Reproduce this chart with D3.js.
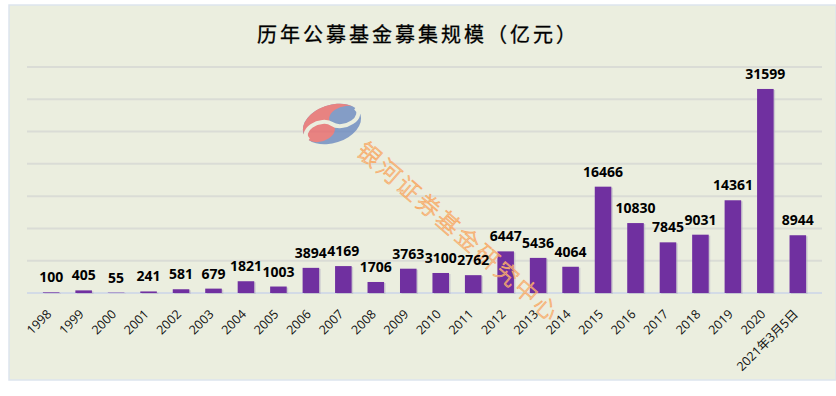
<!DOCTYPE html>
<html>
<head>
<meta charset="utf-8">
<script src="https://cdn.jsdelivr.net/npm/d3@7"></script>
<style>
  body { margin: 0; background: #fff; }
</style>
</head>
<body>
<script>
// categories and values (亿元)
const years = ['1998','1999','2000','2001','2002','2003','2004','2005','2006','2007','2008','2009',
  '2010','2011','2012','2013','2014','2015','2016','2017','2018','2019','2020','2021年3月5日']
const amounts = [100,405,55,241,581,679,1821,1003,3894,4169,1706,3763,
  3100,2762,6447,5436,4064,16466,10830,7845,9031,14361,31599,8944]
const gridTicks = [0,5000,10000,15000,20000,25000,30000,35000]

const m = { width: 836, height: 396 }
const plot = { left: 27, right: 822, top: 67, bottom: 293 }

const svg = d3.select('body').append('svg')
    .attr('width', m.width)
    .attr('height', m.height)

svg.append('rect')
    .attr('x', 9).attr('y', 5)
    .attr('width', m.width - 9).attr('height', 375)
    .attr('fill', '#ebeedf')
    .attr('stroke', '#dde5ee')
    .attr('stroke-width', 1.5)

svg.append('text')
    .attr('x', 418)
    .attr('y', 42)
    .attr('text-anchor', 'middle')
    .attr('font-family', '"Noto Sans CJK SC", serif')
    .attr('font-size', '20px')
    .attr('letter-spacing', '3px')
    .attr('fill', '#000')
    .attr('stroke', '#000')
    .attr('stroke-width', 0.3)
    .text('历年公募基金募集规模（亿元）')

const x = d3.scaleBand()
    .domain(years)
    .range([plot.left, plot.right])
    .padding(0.49)

const y = d3.scaleLinear()
    .domain([0, 35000])
    .range([plot.bottom, plot.top])

// gridlines
svg.append('g')
    .selectAll('line')
    .data(gridTicks)
    .enter()
    .append('line')
        .attr('x1', plot.left)
        .attr('x2', plot.right)
        .attr('y1', d => y(d))
        .attr('y2', d => y(d))
        .attr('stroke', d => d === 0 ? '#d3dbe6' : '#dadcd6')
        .attr('stroke-width', 2)

// watermark logo
const logo = svg.append('g')
    .attr('transform', 'translate(332,124) rotate(-18) scale(30,19)')
    .attr('opacity', 0.72)
logo.append('ellipse').attr('rx', 1).attr('ry', 1).attr('fill', '#5d7fbd')
logo.append('path')
    .attr('d', 'M-1,0 A1,1 0 0,1 1,0 A0.5,0.5 0 0,0 0,0 A0.5,0.5 0 0,1 -1,0 Z')
    .attr('transform', 'rotate(-25)')
    .attr('fill', '#e85a5e')
logo.append('path')
    .attr('d', 'M-1,0 A0.5,0.5 0 0,1 0,0 A0.5,0.5 0 0,0 1,0')
    .attr('transform', 'rotate(-25)')
    .attr('fill', 'none')
    .attr('stroke', '#ebeedf')
    .attr('stroke-width', 4)
    .attr('vector-effect', 'non-scaling-stroke')

// bars with light shadow
const bars = svg.append('g')
bars.selectAll('.shadow')
    .data(amounts)
    .enter()
    .append('rect')
        .attr('class', 'shadow')
        .attr('x', (d, i) => x(years[i]) + 1.5)
        .attr('y', d => y(d) + 1)
        .attr('width', x.bandwidth())
        .attr('height', d => plot.bottom - y(d))
        .attr('fill', '#b9b4c4')
        .attr('opacity', 0.6)
bars.selectAll('.bar')
    .data(amounts)
    .enter()
    .append('rect')
        .attr('class', 'bar')
        .attr('x', (d, i) => x(years[i]))
        .attr('y', d => y(d))
        .attr('width', x.bandwidth())
        .attr('height', d => plot.bottom - y(d))
        .attr('fill', '#7030a0')

// category labels
svg.append('g')
    .selectAll('text')
    .data(years)
    .enter()
    .append('text')
        .attr('transform', d => 'translate(' + (x(d) + x.bandwidth() / 2 + 1) + ',315) rotate(-45)')
        .attr('text-anchor', 'end')
        .attr('font-family', '"Open Sans", "Noto Sans CJK SC", sans-serif')
        .attr('font-size', '12.5px')
        .attr('fill', '#111')
        .text(d => d)

// watermark text
svg.append('text')
    .attr('transform', 'translate(460,231) rotate(41)')
    .attr('text-anchor', 'middle')
    .attr('dominant-baseline', 'central')
    .attr('font-family', '"Noto Sans CJK SC", sans-serif')
    .attr('font-weight', 300)
    .attr('font-size', '23px')
    .attr('letter-spacing', '3px')
    .attr('fill', 'rgba(250,200,150,0.15)')
    .attr('stroke', '#f7ad6c')
    .attr('stroke-width', 0.8)
    .text('银河证券基金研究中心')

// value labels
svg.append('g')
    .selectAll('text')
    .data(amounts)
    .enter()
    .append('text')
        .attr('x', (d, i) => x(years[i]) + x.bandwidth() / 2)
        .attr('y', d => y(d) - 10)
        .attr('text-anchor', 'middle')
        .attr('font-family', '"Open Sans", sans-serif')
        .attr('font-weight', 'bold')
        .attr('font-size', '14px')
        .attr('fill', '#000')
        .text(d => d)
</script>
</body>
</html>
